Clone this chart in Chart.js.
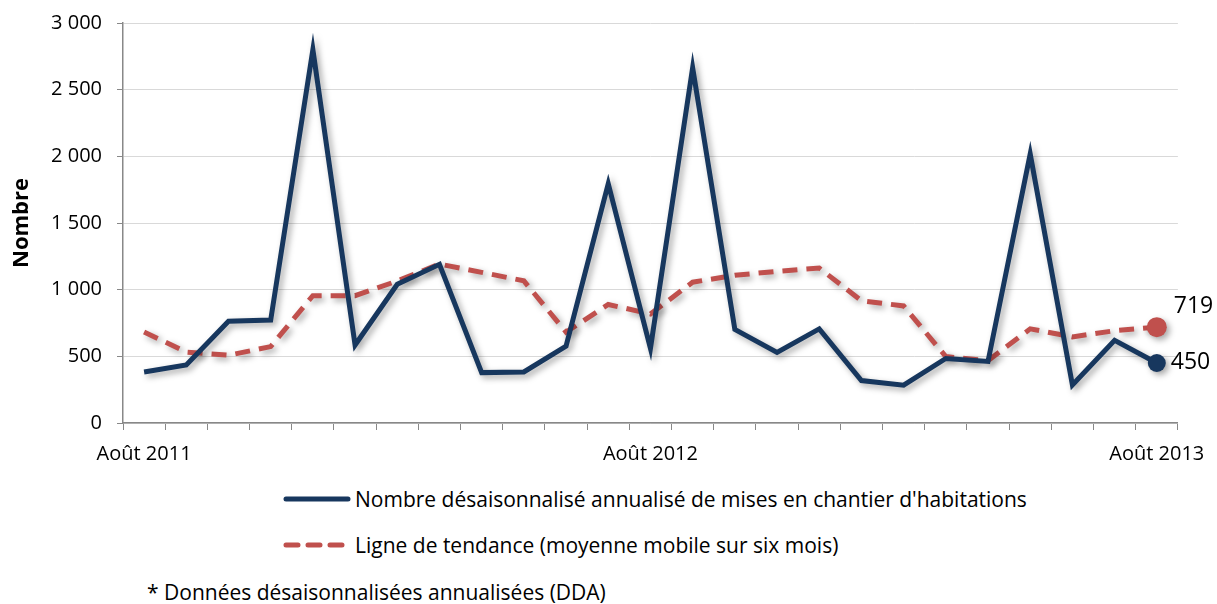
<!DOCTYPE html>
<html>
<head>
<meta charset="utf-8">
<script src="https://cdn.jsdelivr.net/npm/chart.js@4"></script>
<style>
  body { margin: 0; background: #fff; font-family: 'Open Sans', sans-serif; }
  #wrap { position: relative; width: 1217px; height: 604px; overflow: hidden; }
  #box { position: absolute; left: 0; top: -4px; width: 1217px; height: 479px; }
  .leg { position: absolute; left: 283px; font-size: 21px; color: #000; display: flex; align-items: center; white-space: nowrap; }
  .leg svg { margin-right: 4px; }
  #note { position: absolute; left: 147px; top: 578px; font-size: 21px; color: #000; white-space: nowrap; }
</style>
</head>
<body>
<div id="wrap">
  <div id="box"><canvas id="chart"></canvas></div>
  <div class="leg" style="top:485px">
    <svg width="68" height="10"><line x1="3" y1="5" x2="65" y2="5" stroke="#17375e" stroke-width="5" stroke-linecap="round"/></svg>
    Nombre désaisonnalisé annualisé de mises en chantier d'habitations
  </div>
  <div class="leg" style="top:531px">
    <svg width="68" height="10"><line x1="3" y1="5" x2="65" y2="5" stroke="#c0504d" stroke-width="5" stroke-linecap="round" stroke-dasharray="12 10"/></svg>
    Ligne de tendance (moyenne mobile sur six mois)
  </div>
  <div id="note">* Données désaisonnalisées annualisées (DDA)</div>
</div>
<script>
// monthly categories, Aug 2011 to Aug 2013
const months = [
  'Août 2011', 'Sept. 2011', 'Oct. 2011', 'Nov. 2011', 'Déc. 2011', 'Janv. 2012',
  'Févr. 2012', 'Mars 2012', 'Avr. 2012', 'Mai 2012', 'Juin 2012', 'Juil. 2012',
  'Août 2012', 'Sept. 2012', 'Oct. 2012', 'Nov. 2012', 'Déc. 2012', 'Janv. 2013',
  'Févr. 2013', 'Mars 2013', 'Avr. 2013', 'Mai 2013', 'Juin 2013', 'Juil. 2013',
  'Août 2013'
];
const shownLabels = ['Août 2011', 'Août 2012', 'Août 2013'];

const starts = [
  383, 435, 763, 772, 2800, 585, 1040, 1190, 378, 383, 577, 1795,
  560, 2665, 702, 530, 706, 318, 284, 484, 462, 2018, 285, 620, 450
];
const trend = [
  682, 532, 508, 573, 955, 955, 1065, 1192, 1130, 1066, 682, 889,
  818, 1056, 1108, 1137, 1162, 917, 878, 498, 468, 706, 646, 692, 719
];

const last = months.length - 1;
const fmt = v => String(v).replace(/\B(?=(\d{3})+(?!\d))/g, ' ');

const shadowPlugin = {
  id: 'shadow',
  beforeDatasetsDraw(chart) {
    const c = chart.ctx;
    c.save();
    c.shadowColor = 'rgba(0,0,0,0.35)';
    c.shadowBlur = 6;
    c.shadowOffsetX = 3;
    c.shadowOffsetY = 3;
  },
  afterDatasetsDraw(chart) {
    chart.ctx.restore();
    // end value labels
    const c = chart.ctx;
    c.save();
    c.font = '23px "Open Sans", sans-serif';
    c.fillStyle = '#000';
    c.textBaseline = 'middle';
    const pRed = chart.getDatasetMeta(1).data[last];
    const pBlue = chart.getDatasetMeta(0).data[last];
    c.fillText(String(trend[last]), pRed.x + 17, pRed.y - 21);
    c.fillText(String(starts[last]), pBlue.x + 14, pBlue.y - 1);
    c.restore();
  }
};

new Chart(document.getElementById('chart'), {
  type: 'line',
  data: {
    labels: months,
    datasets: [
      {
        label: "Nombre désaisonnalisé annualisé de mises en chantier d'habitations",
        data: starts,
        borderColor: '#17375e',
        backgroundColor: '#17375e',
        borderWidth: 5,
        tension: 0,
        borderJoinStyle: 'miter',
        pointRadius: ctx => ctx.dataIndex === last ? 9 : 0,
        pointBorderWidth: 0
      },
      {
        label: 'Ligne de tendance (moyenne mobile sur six mois)',
        data: trend,
        borderColor: '#c0504d',
        backgroundColor: '#c0504d',
        borderWidth: 5,
        borderDash: [15, 9],
        tension: 0,
        pointRadius: ctx => ctx.dataIndex === last ? 10 : 0,
        pointBorderWidth: 0
      }
    ]
  },
  options: {
    responsive: true,
    maintainAspectRatio: false,
    animation: false,
    layout: { padding: { top: 18, right: 35, left: 0, bottom: 0 } },
    plugins: {
      legend: { display: false },
      tooltip: { enabled: false }
    },
    scales: {
      x: {
        offset: true,
        grid: {
          offset: true,
          drawOnChartArea: false,
          drawTicks: true,
          tickLength: 7,
          color: '#888'
        },
        border: { color: '#888', width: 1.5 },
        ticks: {
          autoSkip: false,
          maxRotation: 0,
          color: '#000',
          font: { family: 'Open Sans', size: 20 },
          padding: 12,
          callback: function(v) {
            const l = this.getLabelForValue(v);
            return shownLabels.includes(l) ? l : '';
          }
        },
        afterFit: s => { s.height = 52; }
      },
      y: {
        min: 0,
        max: 3000,
        grid: { color: '#d9d9d9', tickLength: 6, tickColor: '#888' },
        border: { color: '#888', width: 1.5 },
        ticks: {
          stepSize: 500,
          color: '#000',
          font: { family: 'Open Sans', size: 20 },
          padding: 15,
          callback: v => fmt(v)
        },
        title: {
          display: true,
          text: 'Nombre',
          color: '#000',
          font: { family: 'Open Sans', size: 22, weight: 'bold' },
          padding: { top: 9, bottom: 0 }
        },
        afterFit: s => { s.width = 123; }
      }
    }
  },
  plugins: [shadowPlugin]
});
</script>
</body>
</html>
